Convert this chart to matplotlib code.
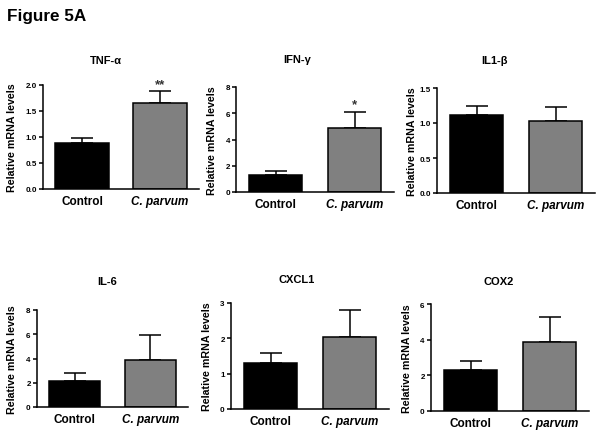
import matplotlib
matplotlib.use("Agg")
import matplotlib.pyplot as plt

plt.rcParams['font.family'] = ['Liberation Sans', 'DejaVu Sans']
plt.rcParams['font.weight'] = 'bold'

# ------ data ------
groups = ["Control", "C. parvum"]
genes = ["TNF-\u03b1", "IFN-\u03b3", "IL1-\u03b2", "IL-6", "CXCL1", "COX2"]
means = [
    [0.88, 1.65],   # TNF-a
    [1.30, 4.87],   # IFN-g
    [1.11, 1.03],   # IL1-b
    [2.17, 3.85],   # IL-6
    [1.30, 2.04],   # CXCL1
    [2.29, 3.86],   # COX2
]
errors = [
    [0.10, 0.23],
    [0.27, 1.23],
    [0.14, 0.20],
    [0.62, 2.05],
    [0.29, 0.76],
    [0.54, 1.41],
]
yticks = [
    [0.0, 0.5, 1.0, 1.5, 2.0],
    [0, 2, 4, 6, 8],
    [0.0, 0.5, 1.0, 1.5],
    [0, 2, 4, 6, 8],
    [0, 1, 2, 3],
    [0, 2, 4, 6],
]
tick_fmt = ["{:.1f}", "{:d}", "{:.1f}", "{:d}", "{:d}", "{:d}"]
stars = ["**", "*", "", "", "", ""]

# ------ layout in pixels (left, right, top, bottom, ylabel offset, title x, title y) ------
W, H = 604, 435
layout = [
    (43, 199, 86, 190, -26, 106, 61),
    (236, 394, 88, 193, -19, 297, 60),
    (437, 595, 89, 194, -20, 495, 61),
    (37, 188, 311, 408, -20, 107, 282),
    (231, 389, 304, 410, -19, 297, 280),
    (431, 589, 305, 412, -19, 499, 282),
]
colors = ["black", "#808080"]

fig = plt.figure(figsize=(W / 100, H / 100), dpi=100)
fig.text(7 / W, 1 - 17 / H, "Figure 5A", fontsize=12.3, fontweight='bold', va='center', ha='left')

for i in range(6):
    l, r, t, b, yoff, tx, ty = layout[i]
    ax = fig.add_axes([l / W, 1 - b / H, (r - l) / W, (b - t) / H])
    x = [0, 1]
    ax.bar(x, means[i], width=0.68, color=colors, edgecolor='black', linewidth=1.1, zorder=2)
    ax.errorbar(x, means[i], yerr=[[0, 0], errors[i]], fmt='none', ecolor='black',
                elinewidth=1.1, capsize=8, capthick=1.1, zorder=1)
    if stars[i]:
        ax.annotate(stars[i], (1, means[i][1] + errors[i][1]), xytext=(0, 1),
                    textcoords='offset points', ha='center', va='bottom',
                    fontsize=9.5, color='#333333', annotation_clip=False)
    ax.set_xlim(-0.5, 1.5)
    ax.set_ylim(0, yticks[i][-1])
    ax.set_yticks(yticks[i])
    ax.set_yticklabels([tick_fmt[i].format(v) for v in yticks[i]], fontsize=5.8, fontweight='bold')
    ax.set_xticks(x)
    ax.set_xticklabels(groups, fontsize=8.5, fontweight='bold')
    ax.get_xticklabels()[1].set_fontstyle('italic')
    ax.tick_params(axis='x', length=0, pad=4)
    ax.tick_params(axis='y', length=3, width=1.1, pad=1.5)
    ax.spines['top'].set_visible(False)
    ax.spines['right'].set_visible(False)
    ax.spines['left'].set_linewidth(1.1)
    ax.spines['bottom'].set_linewidth(1.1)
    ax.set_ylabel("Relative mRNA levels", fontsize=7.7, fontweight='bold')
    ax.yaxis.set_label_coords(yoff / (r - l), 0.5)
    fig.text(tx / W, 1 - ty / H, genes[i], fontsize=8, fontweight='bold', ha='center', va='center')

fig.savefig("out.png", dpi=100)
